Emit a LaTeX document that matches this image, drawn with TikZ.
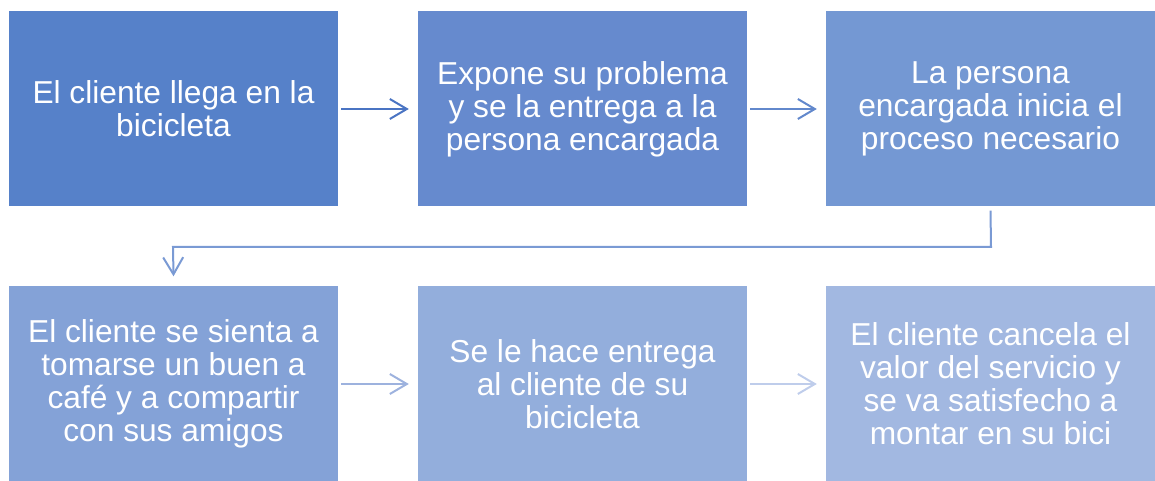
\documentclass[tikz,border=0pt]{standalone}
\usepackage{fontspec}
\setmainfont{Liberation Sans}
\usetikzlibrary{arrows.meta}
\definecolor{cA}{HTML}{5681C9}
\definecolor{cB}{HTML}{668ACE}
\definecolor{cC}{HTML}{7498D3}
\definecolor{cD}{HTML}{84A2D7}
\definecolor{cE}{HTML}{93AEDC}
\definecolor{cF}{HTML}{A2B8E1}
\definecolor{aA}{HTML}{4A74C3}
\definecolor{aB}{HTML}{6288CC}
\definecolor{aC}{HTML}{7A9AD4}
\definecolor{aD}{HTML}{9DB2DE}
\definecolor{aE}{HTML}{BFCDEB}
\tikzset{
  stepbox/.style={minimum width=329pt, minimum height=195pt, inner sep=0pt,
    align=center, text=white, font=\fontsize{31.7}{33}\selectfont},
  flow/.style={line width=2pt, -{Straight Barb[length=17pt,width=20pt,line width=2pt]}}
}
\begin{document}
\begin{tikzpicture}[x=1pt,y=1pt]
\useasboundingbox (0,0) rectangle (1155,481);
\node[stepbox, fill=cA] (b1) at (173.5,372) {El cliente llega en la\\bicicleta};
\node[stepbox, fill=cB] (b2) at (582.5,372) {Expone su problema\\y se la entrega a la\\persona encargada};
\node[stepbox, fill=cC] (b3) at (990.5,372) {La persona\\encargada inicia el\\proceso necesario};
\node[stepbox, fill=cD] (b4) at (173.5,97) {El cliente se sienta a\\tomarse un buen a\\café y a compartir\\con sus amigos};
\node[stepbox, fill=cE] (b5) at (582.5,97) {Se le hace entrega\\al cliente de su\\bicicleta};
\node[stepbox, fill=cF] (b6) at (990.5,97) {El cliente cancela el\\valor del servicio y\\se va satisfecho a\\montar en su bici};
\coordinate (t1) at (991,234);
\coordinate (t2) at (173,234);
\draw[flow, draw=aA] ([xshift=3pt]b1.east) -- ([xshift=-9pt]b2.west);
\draw[flow, draw=aB] ([xshift=3pt]b2.east) -- ([xshift=-9pt]b3.west);
\draw[flow, draw=aC] ([yshift=-4pt]b3.south) -- (t1) -- (t2) -- ([yshift=10pt]b4.north);
\draw[flow, draw=aD] ([xshift=3pt]b4.east) -- ([xshift=-9pt]b5.west);
\draw[flow, draw=aE] ([xshift=3pt]b5.east) -- ([xshift=-9pt]b6.west);
\end{tikzpicture}
\end{document}
